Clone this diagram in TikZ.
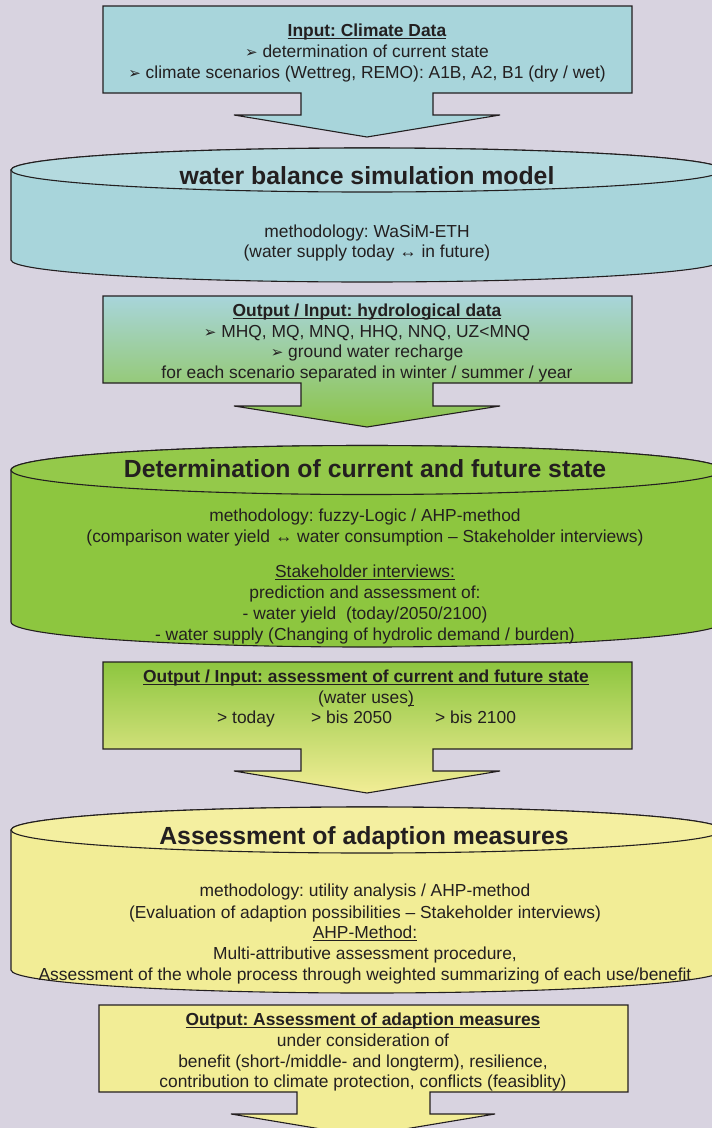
\documentclass[tikz,border=0pt]{standalone}
\usepackage{fontspec}
\setmainfont{Liberation Sans}
\newfontfamily\dvfont{DejaVu Sans}
\definecolor{bgc}{RGB}{216,211,224}
\definecolor{ink}{RGB}{35,31,32}
\definecolor{blu}{RGB}{168,213,219}
\definecolor{blutop}{RGB}{180,218,223}
\definecolor{grn}{RGB}{141,198,63}
\definecolor{grntop}{RGB}{148,201,74}
\definecolor{grnmid}{RGB}{140,196,72}
\definecolor{yel}{RGB}{242,237,150}
\definecolor{yeltop}{RGB}{244,239,160}
\newcommand\myul[1]{\setbox0\hbox{#1}\rlap{\rule[-3.2pt]{\wd0}{1.3pt}}\box0}
\newcommand\bul{{\dvfont\fontsize{15}{15}\selectfont ➢}}
\frenchspacing
\begin{document}
\begin{tikzpicture}[x=1pt,y=-1pt,
  txt/.style={anchor=base, inner sep=0pt, font=\fontsize{17.4}{21}\selectfont\frenchspacing, text=ink},
  ttl/.style={anchor=base, inner sep=0pt, font=\fontsize{24.8}{28}\selectfont\bfseries, text=ink},
  outl/.style={draw=ink, line width=1.1pt, line join=miter}]
\useasboundingbox (0,0) rectangle (712,1128);
\fill[bgc] (0,0) rectangle (712,1128);
\clip (0,0) rectangle (712,1128);

% ---------- Box 1 with block arrow
\path[outl, fill=blu] (103,6) -- (632,6) -- (632,93) -- (433,93) -- (433,115) -- (500,115)
  -- (367,137) -- (234,115) -- (301,115) -- (301,93) -- (103,93) -- cycle;
\node[txt] (b1h) at (367,36) {\myul{\textbf{Input: Climate Data}}};
\node[txt] (b1a) at (367,57) {\bul\ determination of current state};
\node[txt] (b1b) at (367,78) {\bul\ climate scenarios (Wettreg, REMO): A1B, A2, B1 (dry / wet)};

% ---------- Cylinder 1
\path[outl, fill=blu] (11,170) -- (11,260) arc[start angle=180, end angle=360, x radius=356pt, y radius=22pt]
  -- (723,170) arc[start angle=0, end angle=180, x radius=356pt, y radius=22pt] -- cycle;
\path[outl, fill=blutop] (367,170) ellipse[x radius=356pt, y radius=22pt];
\node[ttl] (c1t) at (367,184) {water balance simulation model};
\node[txt] (c1a) at (367,237) {methodology: WaSiM-ETH};
\node[txt] (c1b) at (367,257) {(water supply today ↔ in future)};

% ---------- Box 2 with block arrow
\path[outl, top color=blu, bottom color=grnmid] (103,296) -- (632,296) -- (632,383) -- (433,383) -- (433,406) -- (500,406)
  -- (367,427) -- (234,406) -- (301,406) -- (301,383) -- (103,383) -- cycle;
\node[txt] (b2h) at (367,316) {\myul{\textbf{Output / Input: hydrological data}}};
\node[txt] (b2a) at (367,337) {\bul\ MHQ, MQ, MNQ, HHQ, NNQ, UZ<MNQ};
\node[txt] (b2b) at (367,357) {\bul\ ground water recharge};
\node[txt] (b2c) at (367,378) {for each scenario separated in winter / summer / year};

% ---------- Cylinder 2
\path[outl, fill=grn] (11,470) -- (11,622) arc[start angle=180, end angle=360, x radius=356pt, y radius=25pt]
  -- (723,470) arc[start angle=0, end angle=180, x radius=356pt, y radius=24.5pt] -- cycle;
\path[outl, fill=grntop] (367,470) ellipse[x radius=356pt, y radius=24.5pt];
\node[ttl] (c2t) at (365,477) {Determination of current and future state};
\node[txt] (c2a) at (365,521) {methodology: fuzzy-Logic / AHP-method};
\node[txt] (c2b) at (365,542) {(comparison water yield ↔ water consumption – Stakeholder interviews)};
\node[txt] (c2c) at (365,577) {\myul{Stakeholder interviews:}};
\node[txt] (c2d) at (365,598) {prediction and assessment of:};
\node[txt] (c2e) at (365,619) {- water yield\ \ (today/2050/2100)};
\node[txt] (c2f) at (365,640) {- water supply (Changing of hydrolic demand / burden)};

% ---------- Box 3 with block arrow
\path[outl, top color=grn, bottom color=yel] (103,662) -- (632,662) -- (632,749) -- (433,749) -- (433,771) -- (500,771)
  -- (367,793) -- (234,771) -- (301,771) -- (301,749) -- (103,749) -- cycle;
\node[txt] (b3h) at (366,682) {\myul{\textbf{Output / Input: assessment of current and future state}}};
\node[txt] (b3a) at (366,703) {(water uses\myul{)}};
\node[txt, anchor=base west] (b3b) at (217,723) {> today};
\node[txt, anchor=base west] (b3c) at (311,723) {> bis 2050};
\node[txt, anchor=base west] (b3d) at (435,723) {> bis 2100};

% ---------- Cylinder 3
\path[outl, fill=yel] (11,830) -- (11,970) arc[start angle=180, end angle=360, x radius=356pt, y radius=23pt]
  -- (723,830) arc[start angle=0, end angle=180, x radius=356pt, y radius=23pt] -- cycle;
\path[outl, fill=yeltop] (367,830) ellipse[x radius=356pt, y radius=23pt];
\node[ttl] (c3t) at (364,844) {Assessment of adaption measures};
\node[txt] (c3a) at (365,896) {methodology: utility analysis / AHP-method};
\node[txt] (c3b) at (365,918) {(Evaluation of adaption possibilities – Stakeholder interviews)};
\node[txt] (c3c) at (365,938) {\myul{AHP-Method:}};
\node[txt] (c3d) at (365,959) {Multi-attributive assessment procedure,};
\node[txt] (c3e) at (365,980) {Assessment of the whole process through weighted summarizing of each use/benefit};

% ---------- Box 4 with block arrow
\path[outl, fill=yel] (99,1005) -- (628,1005) -- (628,1092) -- (430,1092) -- (430,1114) -- (495,1114)
  -- (363,1136) -- (231,1114) -- (297,1114) -- (297,1092) -- (99,1092) -- cycle;
\node[txt] (b4h) at (363,1025) {\myul{\textbf{Output: Assessment of adaption measures}}};
\node[txt] (b4a) at (363,1046) {under consideration of};
\node[txt] (b4b) at (363,1067) {benefit (short-/middle- and longterm), resilience,};
\node[txt] (b4c) at (363,1087) {contribution to climate protection, conflicts (feasiblity)};
\end{tikzpicture}
\end{document}
